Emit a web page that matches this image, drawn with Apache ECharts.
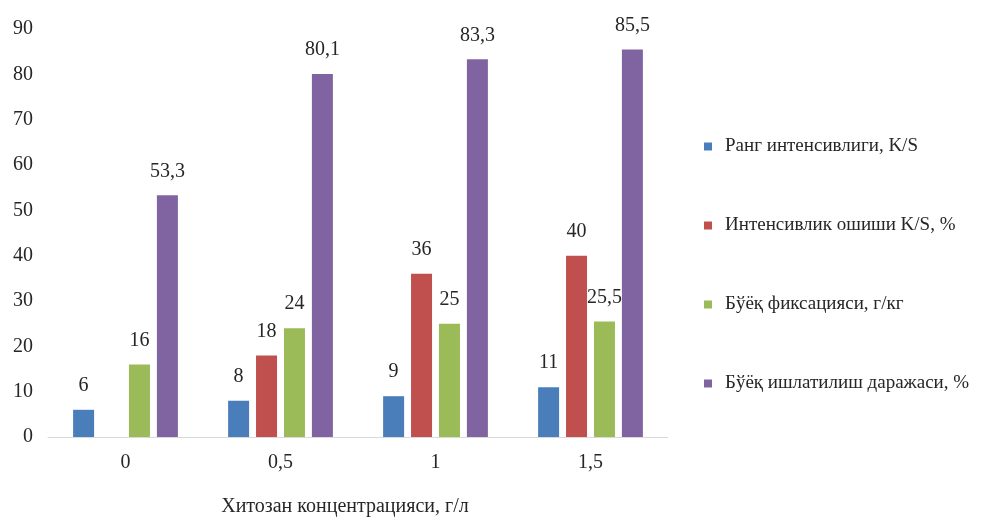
<!DOCTYPE html>
<html>
<head>
<meta charset="utf-8">
<script src="https://cdn.jsdelivr.net/npm/echarts@6/dist/echarts.min.js"></script>
<style>
  html, body { margin: 0; padding: 0; background: #fff; }
  #chart { width: 1006px; height: 522px; }
</style>
</head>
<body>
<div id="chart"></div>
<script>
// Chitosan concentration, g/l
const categories = ['0', '0,5', '1', '1,5'];
const seriesNames = [
  'Ранг интенсивлиги, K/S',
  'Интенсивлик ошиши K/S, %',
  'Бўёқ фиксацияси, г/кг',
  'Бўёқ ишлатилиш даражаси, %'
];
const colorIntensity = [6, 8, 9, 11];
const intensityGain = [null, 18, 36, 40];
const dyeFixation = [16, 24, 25, 25.5];
const dyeUsage = [53.3, 80.1, 83.3, 85.5];
const yTicks = { min: 0, max: 90, interval: 10 };
const axisTitle = 'Хитозан концентрацияси, г/л';

const colors = ['#4a7ebb', '#c0504d', '#9bbb59', '#8064a2'];
const font = '"Liberation Serif", "DejaVu Serif", serif';
const textColor = '#262626';

const chart = echarts.init(document.getElementById('chart'));

function barSeries(name, data) {
  return {
    name: name,
    type: 'bar',
    data: data,
    barWidth: 21,
    barGap: '33%',
    label: {
      show: true,
      position: 'top',
      distance: 14,
      fontFamily: font,
      fontSize: 20,
      color: textColor,
      formatter: p => (p.value == null ? '' : String(p.value).replace('.', ','))
    }
  };
}

chart.setOption({
  animation: false,
  color: colors,
  grid: { left: 48, right: 338, top: 29, bottom: 82 },
  legend: {
    orient: 'vertical',
    left: 699,
    top: 132,
    itemWidth: 8,
    itemHeight: 8,
    itemGap: 60,
    icon: 'rect',
    textStyle: { fontFamily: font, fontSize: 19, color: textColor, padding: [0, 0, 0, 8] },
    data: seriesNames
  },
  xAxis: {
    type: 'category',
    data: categories,
    axisLine: { lineStyle: { color: '#d9d9d9' } },
    axisTick: { show: false },
    axisLabel: { fontFamily: font, fontSize: 20, color: textColor, margin: 16 },
    name: axisTitle,
    nameLocation: 'middle',
    nameGap: 60,
    nameTextStyle: { fontFamily: font, fontSize: 20, color: textColor, padding: [0, 26, 0, 0] }
  },
  yAxis: {
    type: 'value',
    min: yTicks.min,
    max: yTicks.max,
    interval: yTicks.interval,
    axisLine: { show: false },
    axisTick: { show: false },
    splitLine: { show: false },
    axisLabel: { fontFamily: font, fontSize: 20, color: textColor, margin: 15 }
  },
  series: [
    barSeries(seriesNames[0], colorIntensity),
    barSeries(seriesNames[1], intensityGain),
    barSeries(seriesNames[2], dyeFixation),
    barSeries(seriesNames[3], dyeUsage)
  ]
});
</script>
</body>
</html>
